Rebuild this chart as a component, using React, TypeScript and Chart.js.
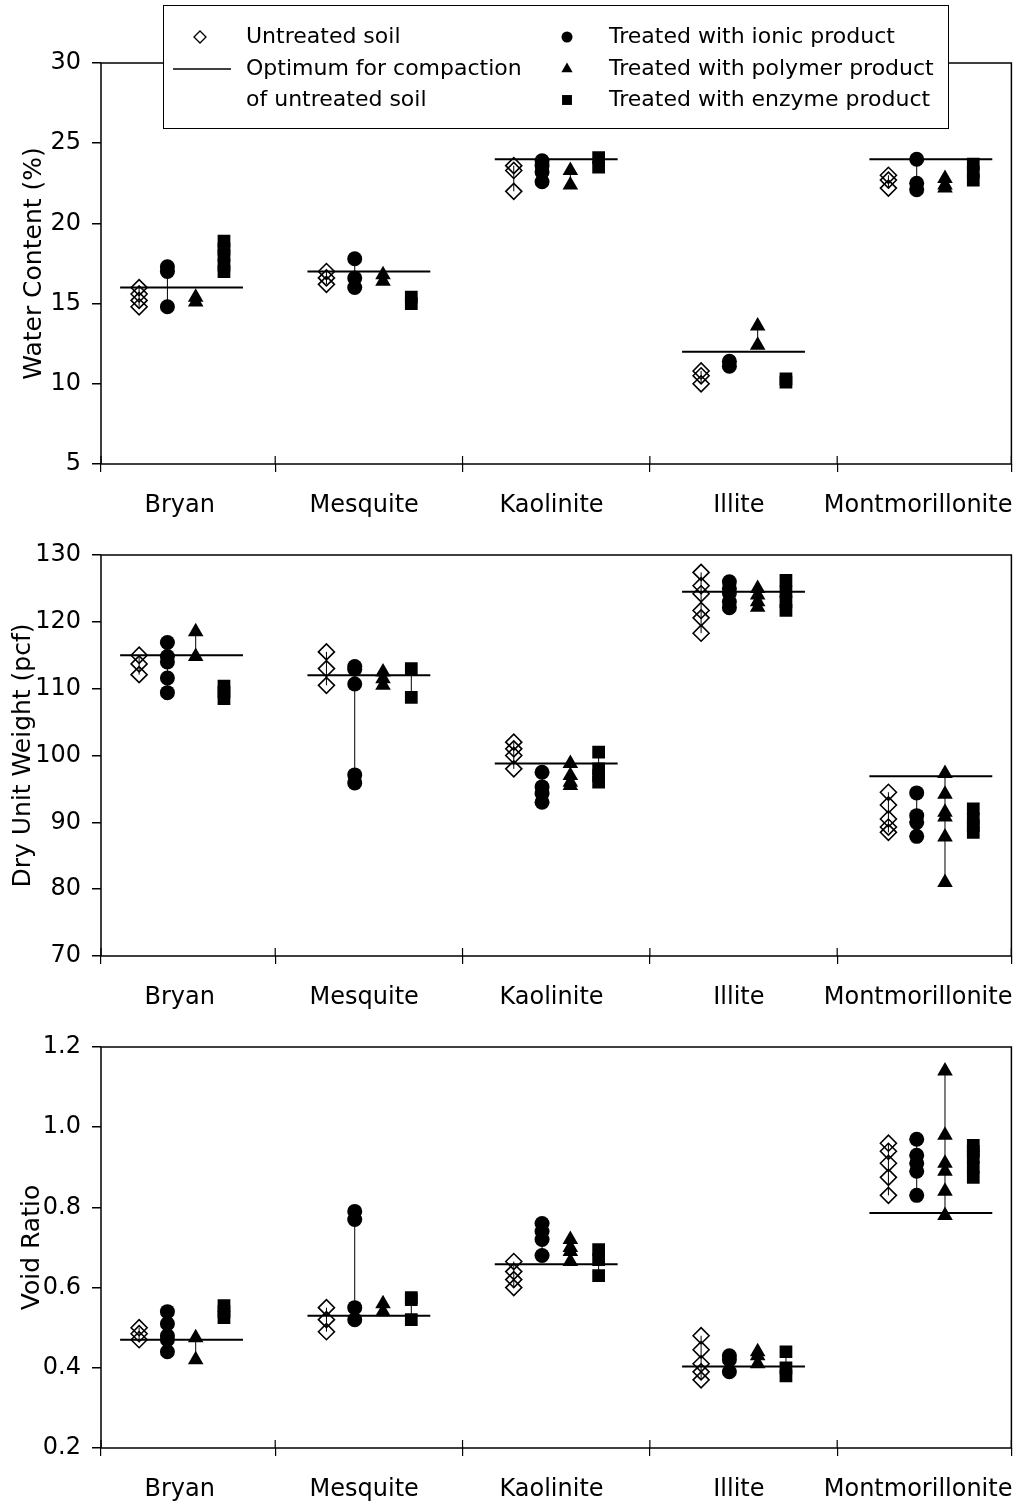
import React, { useEffect, useRef } from 'react';
import { Chart, registerables } from 'chart.js';
import { drawPoint } from 'chart.js/helpers';

Chart.register(...registerables);

const CATEGORIES = ['Bryan', 'Mesquite', 'Kaolinite', 'Illite', 'Montmorillonite'];

// Water content (%)
const WC_UNTREATED = [[16.0, 15.6, 15.2, 14.8], [17.0, 16.6, 16.2], [23.6, 23.3, 22.0], [10.8, 10.5, 10.0], [23.0, 22.7, 22.2]];
const WC_IONIC = [[17.3, 17.0, 14.8], [17.8, 16.6, 16.0], [23.9, 23.6, 23.2, 22.6], [11.4, 11.1], [24.0, 22.5, 22.1]];
const WC_POLYMER = [[15.4, 15.1], [16.8, 16.4], [23.3, 22.4], [13.6, 12.4], [22.8, 22.4, 22.2]];
const WC_ENZYME = [[18.9, 18.4, 18.0, 17.4, 17.0], [15.4, 15.0], [24.1, 23.5], [10.3, 10.1], [23.7, 23.2, 22.7]];
const WC_OPTIMUM = [16.0, 17.0, 24.0, 12.0, 24.0];
const WC_TICKS = [5, 10, 15, 20, 25, 30];

// Dry unit weight (pcf)
const DU_UNTREATED = [[115.0, 113.7, 112.1], [115.5, 113.0, 110.5], [102.0, 101.0, 100.0, 98.0], [127.4, 125.4, 124.2, 121.7, 120.6, 118.3], [94.5, 92.6, 90.5, 89.3, 88.5]];
const DU_IONIC = [[116.9, 114.8, 114.0, 111.6, 109.4], [113.3, 112.9, 110.7, 97.1, 95.9], [97.5, 95.3, 94.3, 93.0], [126.0, 125.0, 124.3, 123.0, 122.1], [94.4, 91.0, 90.0, 87.9]];
const DU_POLYMER = [[118.5, 114.8], [112.5, 111.5, 110.5], [98.8, 97.0, 96.0, 95.5], [125.0, 124.0, 123.0, 122.2], [97.3, 94.2, 91.5, 90.8, 87.8, 81.0]];
const DU_ENZYME = [[110.4, 109.5, 108.5], [113.0, 108.7], [100.5, 98.0, 97.0, 96.0], [126.2, 124.5, 123.0, 121.7], [92.0, 90.5, 89.5, 88.5]];
const DU_OPTIMUM = [115.0, 112.0, 98.8, 124.5, 96.9];
const DU_TICKS = [70, 80, 90, 100, 110, 120, 130];

// Void ratio
const VR_UNTREATED = [[0.50, 0.485, 0.47], [0.55, 0.52, 0.49], [0.665, 0.64, 0.62, 0.60], [0.48, 0.445, 0.41, 0.39, 0.37], [0.96, 0.94, 0.91, 0.875, 0.83]];
const VR_IONIC = [[0.54, 0.51, 0.48, 0.47, 0.44], [0.79, 0.77, 0.55, 0.52], [0.76, 0.74, 0.72, 0.68], [0.43, 0.42, 0.39], [0.97, 0.93, 0.91, 0.89, 0.83]];
const VR_POLYMER = [[0.475, 0.42], [0.56, 0.54], [0.72, 0.70, 0.69, 0.665], [0.44, 0.43, 0.41], [1.14, 0.98, 0.91, 0.89, 0.84, 0.78]];
const VR_ENZYME = [[0.555, 0.54, 0.525], [0.575, 0.57, 0.52], [0.695, 0.67, 0.63], [0.44, 0.40, 0.38], [0.955, 0.94, 0.925, 0.90, 0.875]];
const VR_OPTIMUM = [0.47, 0.53, 0.658, 0.403, 0.786];
const VR_TICKS = [0.2, 0.4, 0.6, 0.8, 1.0, 1.2];

const LEGEND_LEFT = ['Untreated soil', 'Optimum for compaction', 'of untreated soil'];
const LEGEND_RIGHT = ['Treated with ionic product', 'Treated with polymer product', 'Treated with enzyme product'];

// ---- layout / style constants ----
const FONT = 'DejaVu Sans';
const X_MIN = -0.43;
const X_MAX = 4.43;
const GROUP_OFFSETS = [-0.2265, -0.0755, 0.0755, 0.2265];
const OPT_HALF = 0.328;
const LABEL_SHIFT = [-0.01, -0.025, -0.025, -0.025, -0.068];
const CANVAS_W = 1021;
const CANVAS_H = 530;
const PANEL_TOPS = [0, 492, 984];

const GROUP_STYLES = [
  { pointStyle: 'rectRot', pointRadius: 8, backgroundColor: 'rgba(0,0,0,0)', borderColor: '#000', borderWidth: 1.6 },
  { pointStyle: 'circle', pointRadius: 7.5, backgroundColor: '#000', borderColor: '#000', borderWidth: 0 },
  { pointStyle: 'triangle', pointRadius: 9, backgroundColor: '#000', borderColor: '#000', borderWidth: 0 },
  { pointStyle: 'rect', pointRadius: 9, backgroundColor: '#000', borderColor: '#000', borderWidth: 0 },
];

const LABEL_TICKS = CATEGORIES.map((_, i) => i + LABEL_SHIFT[i]);
const MARK_TICKS = [X_MIN, 0.5, 1.5, 2.5, 3.5, X_MAX];

type PanelSpec = {
  title: string;
  titlePad: number;
  groups: number[][][];
  optimum: number[];
  yTicks: number[];
  fmt: (v: number) => string;
};

const PANELS: PanelSpec[] = [
  { title: 'Water Content (%)', titlePad: 19, groups: [WC_UNTREATED, WC_IONIC, WC_POLYMER, WC_ENZYME], optimum: WC_OPTIMUM, yTicks: WC_TICKS, fmt: (v) => String(v) },
  { title: 'Dry Unit Weight (pcf)', titlePad: 8, groups: [DU_UNTREATED, DU_IONIC, DU_POLYMER, DU_ENZYME], optimum: DU_OPTIMUM, yTicks: DU_TICKS, fmt: (v) => String(v) },
  { title: 'Void Ratio', titlePad: 17, groups: [VR_UNTREATED, VR_IONIC, VR_POLYMER, VR_ENZYME], optimum: VR_OPTIMUM, yTicks: VR_TICKS, fmt: (v) => v.toFixed(1) },
];

const isNear = (a: number, b: number) => Math.abs(a - b) < 1e-6;

const framePlugin = {
  id: 'frameAndLegend',
  afterDraw(chart: any, _args: any, opts: any) {
    const { ctx, chartArea } = chart;
    const xs = chart.scales.x;
    ctx.save();
    ctx.strokeStyle = '#000';
    ctx.lineWidth = 1.5;
    ctx.strokeRect(chartArea.left, chartArea.top, chartArea.right - chartArea.left, chartArea.bottom - chartArea.top);
    // inward half of x tick marks
    ctx.lineWidth = 1.2;
    MARK_TICKS.forEach((v) => {
      const px = xs.getPixelForValue(v);
      ctx.beginPath();
      ctx.moveTo(px, chartArea.bottom);
      ctx.lineTo(px, chartArea.bottom - 8);
      ctx.stroke();
    });
    if (opts && opts.legend) {
      const bx = 163, by = 5, bw = 785, bh = 123;
      ctx.fillStyle = '#fff';
      ctx.fillRect(bx, by, bw, bh);
      ctx.lineWidth = 1;
      ctx.strokeRect(bx + 0.5, by + 0.5, bw, bh);
      const rows = [37, 69, 100];
      ctx.fillStyle = '#000';
      ctx.font = `22px "${FONT}"`;
      ctx.textBaseline = 'middle';
      ctx.textAlign = 'left';
      LEGEND_LEFT.forEach((t, i) => ctx.fillText(t, 246, rows[i]));
      LEGEND_RIGHT.forEach((t, i) => ctx.fillText(t, 609, rows[i]));
      // symbols
      ctx.strokeStyle = '#000';
      ctx.fillStyle = 'rgba(0,0,0,0)';
      ctx.lineWidth = 1.3;
      drawPoint(ctx, { pointStyle: 'rectRot', radius: 6, rotation: 0, borderWidth: 1.3 }, 200, rows[0]);
      ctx.lineWidth = 1.5;
      ctx.beginPath();
      ctx.moveTo(173, rows[1]);
      ctx.lineTo(231, rows[1]);
      ctx.stroke();
      ctx.fillStyle = '#000';
      ctx.lineWidth = 0;
      drawPoint(ctx, { pointStyle: 'circle', radius: 5.5, rotation: 0, borderWidth: 0 }, 567, rows[0]);
      drawPoint(ctx, { pointStyle: 'triangle', radius: 6.5, rotation: 0, borderWidth: 0 }, 567, rows[1]);
      drawPoint(ctx, { pointStyle: 'rect', radius: 7, rotation: 0, borderWidth: 0 }, 567, rows[2]);
    }
    ctx.restore();
  },
};

function buildConfig(spec: PanelSpec, legend: boolean): any {
  const markerSets = spec.groups.map((vals, g) => ({
    label: `m${g}`,
    data: vals.flatMap((arr, ci) => arr.map((v) => ({ x: ci + GROUP_OFFSETS[g], y: v }))),
    showLine: false,
    ...GROUP_STYLES[g],
    order: 1,
  }));
  const rangeSets = spec.groups.map((vals, g) => ({
    label: `r${g}`,
    data: vals.flatMap((arr, ci) => {
      const x = ci + GROUP_OFFSETS[g];
      return [{ x, y: Math.min(...arr) }, { x, y: Math.max(...arr) }, { x, y: null }];
    }),
    showLine: true,
    spanGaps: false,
    pointRadius: 0,
    borderColor: '#000',
    borderWidth: 1,
    order: 3,
  }));
  const optSet = {
    label: 'opt',
    data: spec.optimum.flatMap((v, ci) => [{ x: ci - OPT_HALF, y: v }, { x: ci + OPT_HALF, y: v }, { x: ci, y: null }]),
    showLine: true,
    spanGaps: false,
    pointRadius: 0,
    borderColor: '#000',
    borderWidth: 2,
    order: 2,
  };
  return {
    type: 'scatter',
    data: { datasets: [...markerSets, optSet, ...rangeSets] },
    options: {
      animation: false,
      responsive: false,
      devicePixelRatio: 1,
      layout: { padding: { left: 0, right: 8, top: 63, bottom: 0 } },
      plugins: {
        legend: { display: false },
        tooltip: { enabled: false },
        frameAndLegend: { legend },
      },
      scales: {
        x: {
          type: 'linear',
          min: X_MIN,
          max: X_MAX,
          afterBuildTicks: (scale: any) => {
            const all = [...LABEL_TICKS, ...MARK_TICKS].sort((a, b) => a - b);
            scale.ticks = all.map((value) => ({ value }));
          },
          afterFit: (scale: any) => {
            scale.height = CANVAS_H - 63 - 401;
            scale.paddingLeft = 0;
            scale.paddingRight = 0;
          },
          border: { display: false },
          grid: {
            drawOnChartArea: false,
            drawTicks: true,
            tickLength: 8,
            lineWidth: 1.2,
            color: (c: any) => (c.tick && MARK_TICKS.some((m) => isNear(m, c.tick.value)) ? '#000' : 'rgba(0,0,0,0)'),
          },
          ticks: {
            autoSkip: false,
            maxRotation: 0,
            minRotation: 0,
            padding: 19,
            color: '#000',
            font: { family: FONT, size: 24 },
            callback: (value: number) => {
              const k = LABEL_TICKS.findIndex((v) => isNear(v, value));
              return k >= 0 ? CATEGORIES[k] : '';
            },
          },
        },
        y: {
          type: 'linear',
          min: spec.yTicks[0],
          max: spec.yTicks[spec.yTicks.length - 1],
          afterBuildTicks: (scale: any) => {
            scale.ticks = spec.yTicks.map((value) => ({ value }));
          },
          afterFit: (scale: any) => {
            scale.width = 101;
          },
          border: { display: false },
          grid: {
            drawOnChartArea: false,
            drawTicks: true,
            tickLength: 9,
            lineWidth: 1.5,
            color: '#000',
          },
          ticks: {
            padding: 11,
            color: '#000',
            font: { family: FONT, size: 24 },
            callback: (value: number) => spec.fmt(value),
          },
          title: {
            display: true,
            text: spec.title,
            color: '#000',
            font: { family: FONT, size: 25 },
            padding: { top: spec.titlePad, bottom: 0 },
          },
        },
      },
    },
    plugins: [framePlugin],
  };
}

function Panel({ spec, top, legend }: { spec: PanelSpec; top: number; legend: boolean }) {
  const ref = useRef<HTMLCanvasElement>(null);
  useEffect(() => {
    if (!ref.current) return;
    const chart = new Chart(ref.current, buildConfig(spec, legend));
    return () => chart.destroy();
  }, [spec, legend]);
  return (
    <canvas
      ref={ref}
      width={CANVAS_W}
      height={CANVAS_H}
      style={{ position: 'absolute', left: 0, top, width: CANVAS_W, height: CANVAS_H }}
    />
  );
}

export default function App() {
  return (
    <div style={{ position: 'absolute', left: 0, top: 0, width: 1021, height: 1510, background: '#fff', overflow: 'hidden' }}>
      {PANELS.map((p, i) => (
        <Panel key={i} spec={p} top={PANEL_TOPS[i]} legend={i === 0} />
      ))}
    </div>
  );
}
